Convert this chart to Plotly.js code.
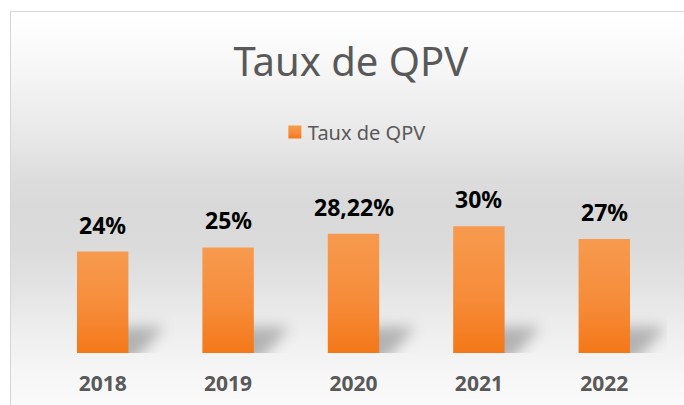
<!DOCTYPE html>
<html>
<head>
<meta charset="utf-8">
<script src="https://cdn.plot.ly/plotly-3.0.1.min.js"></script>
<style>
  html, body { margin:0; padding:0; background:#ffffff; width:684px; height:405px; overflow:hidden; }
  #frame {
    position:absolute; left:10px; top:11px; width:700px; height:420px;
    border:1px solid #d6d6d6; box-sizing:border-box;
    background: linear-gradient(to bottom,
      #ffffff 0px, #f8f8f8 50px, #efefef 90px, #e8e8e8 125px, #dcdcdc 170px,
      #d9d9d9 195px, #dbdbdb 235px, #e3e3e3 275px, #ececec 310px, #f3f3f3 345px,
      #f8f8f8 375px, #fbfbfb 400px, #fcfcfc 420px);
  }
  #chart { position:absolute; left:0; top:0; width:684px; height:405px; }
</style>
</head>
<body>
<div id="frame"></div>
<div id="chart"></div>
<script>
const years = ['2018', '2019', '2020', '2021', '2022'];
const taux = [0.24, 0.25, 0.2822, 0.30, 0.27];
const valueLabels = ['24%', '25%', '28,22%', '30%', '27%'];
const seriesName = 'Taux de QPV';
const chartTitle = 'Taux de QPV';

const FONT = 'Noto Sans, Open Sans, sans-serif';

const trace = {
  type: 'bar',
  x: years,
  y: taux,
  name: seriesName,
  marker: { color: '#f68a35' },
  showlegend: true,
  hoverinfo: 'skip'
};

// category index i refers to years[i] on the category axis
const annotations = years.map((yr, i) => ({
  x: i, y: taux[i], xref: 'x', yref: 'y',
  text: valueLabels[i], showarrow: false,
  yanchor: 'bottom', yshift: 9,
  font: { family: FONT, size: 23, color: '#000000', weight: 'bold' }
}));

const layout = {
  width: 684, height: 405,
  margin: { l: 40, r: 17, t: 184, b: 52 },
  paper_bgcolor: 'rgba(0,0,0,0)',
  plot_bgcolor: 'rgba(0,0,0,0)',
  title: {
    text: chartTitle,
    font: { family: FONT, size: 40, color: '#595959' },
    xref: 'container', x: 0.513, xanchor: 'center',
    yref: 'container', y: 1 - 62/405, yanchor: 'middle'
  },
  showlegend: true,
  legend: {
    orientation: 'h',
    xref: 'container', x: 0.521, xanchor: 'center',
    yref: 'container', y: 1 - 132/405, yanchor: 'middle',
    font: { family: FONT, size: 20, color: '#595959' },
    bgcolor: 'rgba(0,0,0,0)'
  },
  bargap: 0.59,
  xaxis: {
    type: 'category',
    categoryarray: years,
    range: [-0.5, years.length - 0.5],
    autorange: false,
    showline: false, showgrid: false, zeroline: false, ticks: '',
    tickfont: { family: FONT, size: 21, color: '#595959', weight: 'bold' },
    ticklabelstandoff: 16,
    fixedrange: true
  },
  yaxis: {
    range: [0, 0.40],
    autorange: false,
    visible: false, showgrid: false, zeroline: false,
    fixedrange: true
  },
  annotations: annotations
};

Plotly.newPlot('chart', [trace], layout, { displayModeBar: false, staticPlot: true }).then(gd => {
  const NS = 'http://www.w3.org/2000/svg';
  const svg = gd.querySelector('svg.main-svg');
  let defs = svg.querySelector('defs');
  if (!defs) { defs = document.createElementNS(NS, 'defs'); svg.insertBefore(defs, svg.firstChild); }

  const grad = document.createElementNS(NS, 'linearGradient');
  grad.setAttribute('id', 'barGrad');
  grad.setAttribute('x1', '0'); grad.setAttribute('y1', '0');
  grad.setAttribute('x2', '0'); grad.setAttribute('y2', '1');
  [['0', '#f79a4e'], ['0.55', '#f68c3a'], ['1', '#f47818']].forEach(([o, c]) => {
    const s = document.createElementNS(NS, 'stop');
    s.setAttribute('offset', o); s.setAttribute('stop-color', c);
    grad.appendChild(s);
  });
  defs.appendChild(grad);

  const filt = document.createElementNS(NS, 'filter');
  filt.setAttribute('id', 'shBlur');
  filt.setAttribute('filterUnits', 'userSpaceOnUse');
  filt.setAttribute('x', '0'); filt.setAttribute('y', '0');
  filt.setAttribute('width', '700'); filt.setAttribute('height', '420');
  const blur = document.createElementNS(NS, 'feGaussianBlur');
  blur.setAttribute('stdDeviation', '7');
  filt.appendChild(blur);
  defs.appendChild(filt);

  const paths = gd.querySelectorAll('.bars .point path');
  paths.forEach(p => {
    const bb = p.getBBox();
    const x0 = bb.x, x1 = bb.x + bb.width, B = bb.y + bb.height;
    const sh = document.createElementNS(NS, 'path');
    const d = 'M' + (x0 + 10) + ',' + (B + 10) +
              'L' + (x1 + 4) + ',' + (B + 10) +
              'L' + (x1 + 36) + ',' + (B - 26) +
              'L' + (x0 + 42) + ',' + (B - 26) + 'Z';
    sh.setAttribute('d', d);
    sh.setAttribute('fill', '#000');
    sh.setAttribute('fill-opacity', '0.26');
    sh.setAttribute('filter', 'url(#shBlur)');
    const pt = p.parentNode;
    pt.parentNode.insertBefore(sh, pt.parentNode.firstChild);
    p.style.fill = 'url(#barGrad)';
  });
  const leg = gd.querySelectorAll('.legendpoints path');
  leg.forEach(p => {
    p.style.fill = 'url(#barGrad)'; p.style.stroke = 'none';
    p.setAttribute('d', 'M6.5,6.5H-6.5V-6.5H6.5Z');
  });
  // tighten gap between legend swatch and its text, as in the reference
  gd.querySelectorAll('.legendtext').forEach(t => {
    t.setAttribute('x', String(parseFloat(t.getAttribute('x')) - 7));
  });
});
</script>
</body>
</html>
